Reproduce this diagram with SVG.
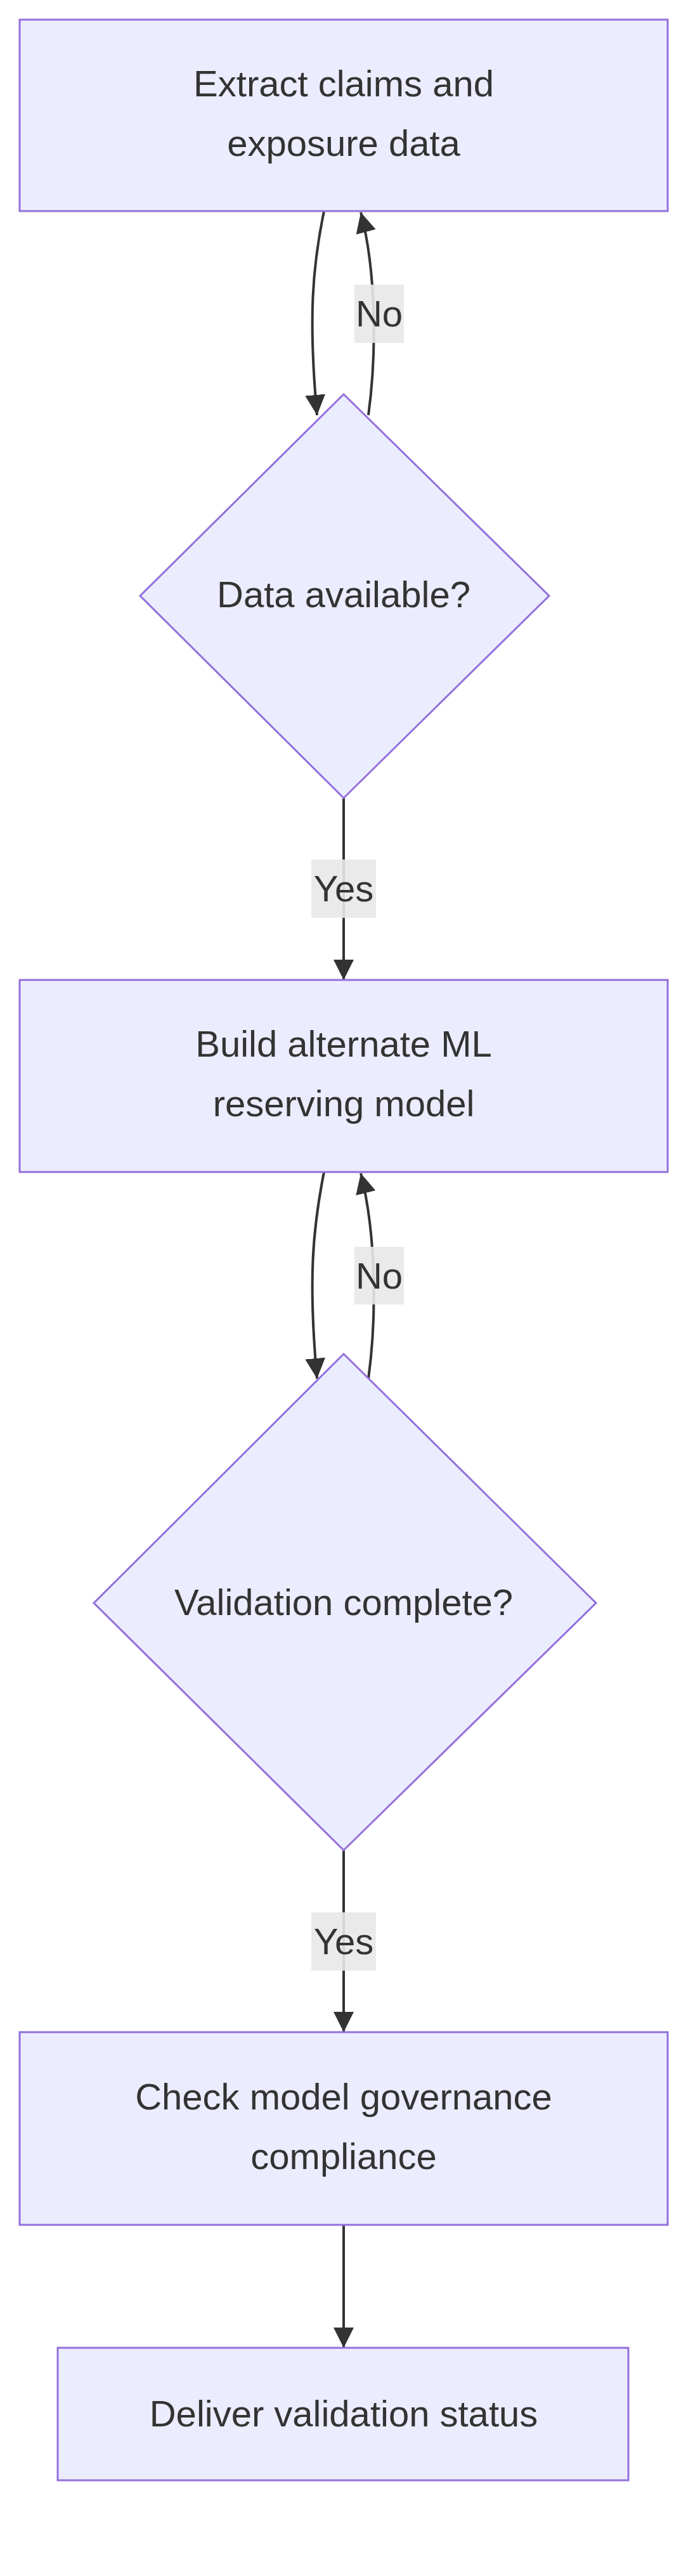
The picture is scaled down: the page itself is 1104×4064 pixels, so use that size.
<svg xmlns="http://www.w3.org/2000/svg" width="1104" height="4064" viewBox="0 0 1104 4064">
<style>
.n{fill:#ECECFF;stroke:#9370DB;stroke-width:3}
.t{font-family:"Liberation Sans",Arial,sans-serif;font-size:58px;fill:#333;text-anchor:middle}
.e{fill:none;stroke:#333;stroke-width:4}
.lb{fill:#e8e8e8;opacity:0.9}
</style>
<defs><marker id="a" viewBox="0 0 10 10" refX="10" refY="5" markerWidth="8" markerHeight="8" markerUnits="userSpaceOnUse" orient="auto"><path d="M0,0L10,5L0,10z" fill="#333"/></marker>
<marker id="ah" viewBox="0 0 10 10" refX="10" refY="5" markerWidth="32" markerHeight="32" markerUnits="userSpaceOnUse" orient="auto"><path d="M0,0L10,5L0,10z" fill="#333"/></marker></defs>
<g id="edges">
<path class="e" d="M511,333 C493,420 486,500 500,655" marker-end="url(#ah)"/>
<path class="e" d="M581,655 C594,560 594,430 569,335" marker-end="url(#ah)"/>
<path class="e" d="M542,1259 L542,1546" marker-end="url(#ah)"/>
<path class="e" d="M511,1849 C493,1940 486,2020 500,2175" marker-end="url(#ah)"/>
<path class="e" d="M581,2175 C594,2080 594,1950 569,1851" marker-end="url(#ah)"/>
<path class="e" d="M542,2919 L542,3206" marker-end="url(#ah)"/>
<path class="e" d="M542,3510 L542,3704" marker-end="url(#ah)"/>
<rect class="lb" x="559" y="449" width="78" height="92"/><text class="t" x="598" y="515">No</text>
<rect class="lb" x="491" y="1356" width="102" height="92"/><text class="t" x="542" y="1422">Yes</text>
<rect class="lb" x="559" y="1967" width="78" height="91"/><text class="t" x="598" y="2033">No</text>
<rect class="lb" x="491" y="3017" width="102" height="92"/><text class="t" x="542" y="3083">Yes</text>
</g>
<g id="n1"><rect class="n" x="31" y="31" width="1022" height="302"/><text class="t" x="542" y="152">Extract claims and</text><text class="t" x="542" y="246">exposure data</text></g>
<g id="n2"><polygon class="n" points="542,622 866,940 542,1259 221,940"/><text class="t" x="542" y="958">Data available?</text></g>
<g id="n3"><rect class="n" x="31" y="1546" width="1022" height="303"/><text class="t" x="542" y="1667">Build alternate ML</text><text class="t" x="542" y="1761">reserving model</text></g>
<g id="n4"><polygon class="n" points="542,2136 940,2529 542,2919 148,2529"/><text class="t" x="542" y="2548">Validation complete?</text></g>
<g id="n5"><rect class="n" x="31" y="3206" width="1022" height="304"/><text class="t" x="542" y="3328">Check model governance</text><text class="t" x="542" y="3422">compliance</text></g>
<g id="n6"><rect class="n" x="91" y="3704" width="900" height="209"/><text class="t" x="542" y="3828">Deliver validation status</text></g>
</svg>
